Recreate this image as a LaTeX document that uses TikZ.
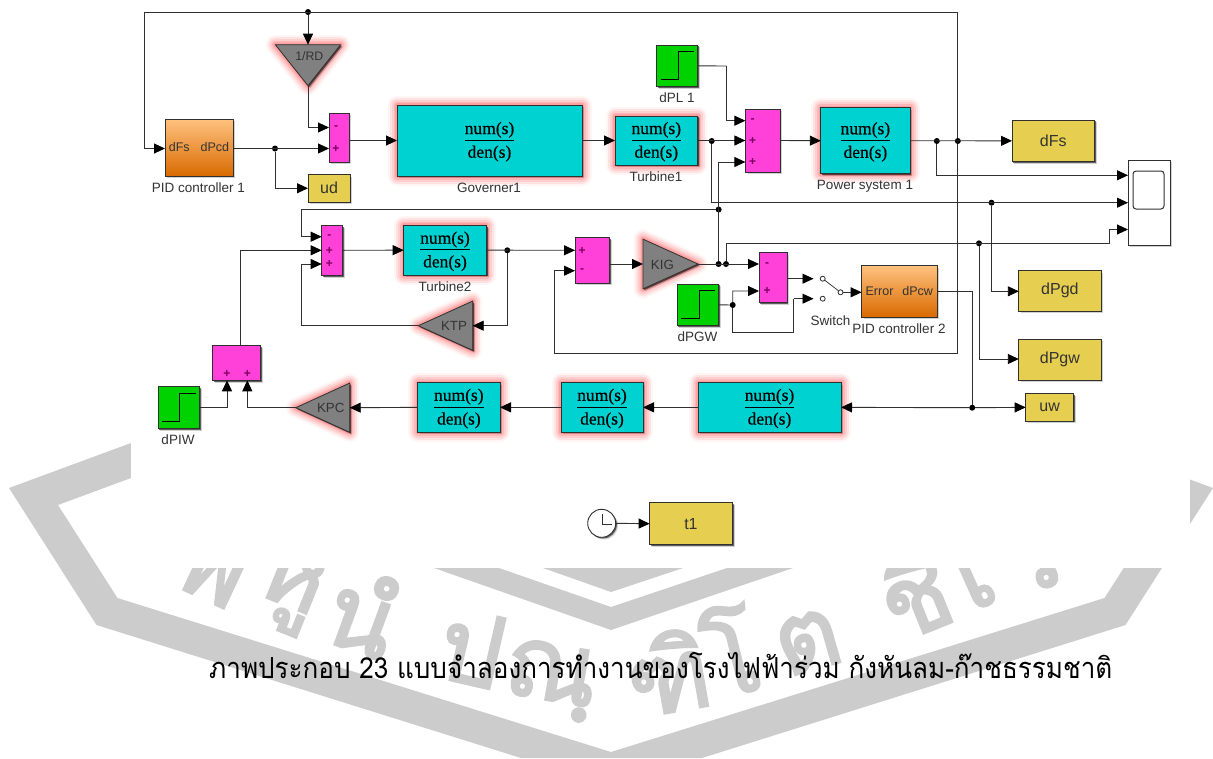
\documentclass[tikz,border=0pt]{standalone}
\usepackage{fontspec}
\usepackage{array}
\setmainfont{Liberation Sans}
\newfontfamily\thaifont[Script=Thai]{Loma}
\newfontfamily\markfont[Script=Thai,FakeBold=2.5]{Loma}
\newfontfamily\tfserif[FakeBold=0.5]{Liberation Serif}
\usetikzlibrary{arrows.meta,shapes.geometric,shadows,calc}
\definecolor{tfc}{HTML}{00D2D2}
\definecolor{sumc}{HTML}{FF40D9}
\definecolor{dispc}{HTML}{E6CF50}
\definecolor{stepc}{HTML}{00D200}
\definecolor{gainc}{HTML}{808080}
\definecolor{wirec}{HTML}{303030}
\definecolor{markc}{HTML}{CCCCCC}
\definecolor{signc}{HTML}{7A0060}
\definecolor{pidtop}{HTML}{FFC280}
\definecolor{pidbot}{HTML}{D96A00}
\definecolor{labelc}{HTML}{333333}
\newcommand\numden{\setlength{\arrayrulewidth}{0.9pt}\fontsize{17.5}{17.5}\tfserif\begin{tabular}{@{}c@{}}\rule{0pt}{16pt}num(s)\\[0.5pt]\hline\rule{0pt}{17pt}den(s)\end{tabular}}
\newcommand\blk[7]{\node[#6,minimum width={(#4-#2)*1pt},minimum height={(#5-#3)*1pt}] (#1) at ({(#2+#4)/2},{(#3+#5)/2}) {#7};}
\tikzset{
  softshadow/.style={general shadow={shadow xshift=2.2pt,shadow yshift=-2.2pt,fill=black,fill opacity=.18},
                     general shadow={shadow xshift=1.2pt,shadow yshift=-1.2pt,fill=black,fill opacity=.55}},
  redglow/.style={preaction={draw=red,line width=19pt,opacity=.04,line join=round},
                  preaction={draw=red,line width=15pt,opacity=.07,line join=round},
                  preaction={draw=red,line width=11pt,opacity=.09,line join=round},
                  preaction={draw=red,line width=7pt,opacity=.11,line join=round},
                  preaction={draw=red,line width=4pt,opacity=.12,line join=round}},
  blockbase/.style={draw=wirec,line width=0.9pt,inner sep=0pt,outer sep=0pt},
  tfblock/.style={blockbase,redglow,softshadow,fill=tfc},
  sumblock/.style={blockbase,softshadow,fill=sumc},
  dispblock/.style={blockbase,softshadow,fill=dispc,text=labelc,font=\fontsize{16}{16}\selectfont},
  pidblock/.style={blockbase,softshadow,top color=pidtop,bottom color=pidbot,text=labelc,font=\fontsize{12.5}{13}\selectfont},
  stepsrc/.style={blockbase,softshadow,fill=stepc,
    path picture={\draw[black,line width=0.8pt,shift={(path picture bounding box.center)}] (-16.5,13.5) -- (1,13.5) -- (1,-14) -- (17,-14);}},
  scopeblock/.style={blockbase,softshadow,fill=white},
  screen/.style={draw=wirec,line width=1pt,rounded corners=3pt,fill=white,inner sep=0pt},
  gainblock/.style={isosceles triangle,isosceles triangle stretches,inner sep=0pt,outer sep=0pt,draw=wirec,line width=0.8pt,fill=gainc,redglow,softshadow},
  gainlabel/.style={text=labelc,inner sep=0pt,font=\fontsize{13.3}{13}\selectfont},
  lbl/.style={text=labelc,inner sep=0pt,font=\fontsize{13.5}{14}\selectfont},
  signmark/.style={text=signc,inner sep=0pt,font=\bfseries\fontsize{12}{12}\selectfont},
  wire/.style={draw=wirec,line width=0.9pt,line join=miter},
  feed/.style={wire,-{Triangle[length=11pt,width=10pt,black]}},
  junction/.style={circle,fill=black,inner sep=0pt,minimum size=6pt,outer sep=0pt},
  swport/.style={circle,draw=wirec,fill=white,line width=0.8pt,inner sep=0pt,minimum size=5pt},
  clockface/.style={circle,draw=wirec,line width=0.9pt,fill=white,inner sep=0pt,minimum size=28pt,softshadow},
  markglyph/.style={text=markc,inner sep=0pt,font=\markfont\fontsize{100}{100}\selectfont},
  caption/.style={text=black,inner sep=0pt,anchor=base west},
}
\begin{document}
\begin{tikzpicture}[x=1pt,y=-1pt]
\useasboundingbox (0,0) rectangle (1213,758);
% --- watermark
\fill[markc] (131,443) -- (9,488) -- (96.5,625) -- (521,758) -- (702,758) -- (1125.5,625) -- (1213,488) -- (1091,443)
  -- (1091,478) -- (1164,505) -- (1104.5,598) -- (611,752) -- (117.5,598) -- (58,505) -- (131,478) -- cycle;
\fill[markc] (434,568) -- (611,630) -- (793,568) -- (727,568) -- (611,607) -- (499,568) -- cycle;
\fill[markc] (543,568) -- (611,592) -- (683,568) -- cycle;
\node[markglyph,rotate=-25] (wa) at (212,572) {พ};
\node[markglyph,rotate=-22] (wb) at (288,590) {หู};
\node[markglyph,rotate=-20] (wc) at (364,612) {นํ};
\node[markglyph,rotate=-13] (wd) at (472,648) {ป};
\node[markglyph,rotate=-10] (we) at (550,680) {ณฺ};
\node[markglyph,rotate=10] (wf) at (668,672) {ฑิ};
\node[markglyph,rotate=14] (wg) at (730,650) {โ};
\node[markglyph,rotate=16] (wh) at (808,642) {ต};
\node[markglyph,rotate=22] (wi) at (913,592) {ชี};
\node[markglyph,rotate=24] (wj) at (975,580) {เ};
\node[markglyph,rotate=25] (wk) at (1030,565) {ว};
\fill[white] (131,0) rectangle (1190,568);
% --- blocks
\blk{pidA}{165}{119}{233}{176}{pidblock}{dFs\hspace{11pt}dPcd}
\blk{sumA}{329}{113}{349}{162}{sumblock}{}
\blk{gov}{397}{105}{582}{176}{tfblock}{\numden}
\blk{turA}{615}{116}{697.6}{165}{tfblock}{\numden}
\blk{stepL}{656.6}{45}{697.6}{86.7}{stepsrc}{}
\blk{sumB}{745.4}{109}{780}{172}{sumblock}{}
\blk{pow}{820.8}{107.7}{910}{173.7}{tfblock}{\numden}
\blk{dFs}{1012}{120}{1094.5}{161.7}{dispblock}{dFs}
\blk{scope}{1128}{160}{1170}{245}{scopeblock}{}
\blk{scr}{1133}{171}{1164}{209}{screen}{}
\blk{ud}{308}{174.5}{350}{202}{dispblock}{ud}
\blk{sumC}{321.7}{225.3}{342.7}{275.3}{sumblock}{}
\blk{turB}{403.7}{225.3}{486.3}{275}{tfblock}{\numden}
\blk{sumD}{575}{237.7}{609.3}{283}{sumblock}{}
\blk{stepG}{677}{284}{718.8}{325.7}{stepsrc}{}
\blk{sumE}{759}{252.7}{787}{302.3}{sumblock}{}
\blk{pidB}{861.6}{265.3}{937}{317}{pidblock}{Error\hspace{9pt}dPcw}
\blk{dPgd}{1018.8}{270.7}{1101}{311}{dispblock}{dPgd}
\blk{dPgw}{1018.8}{339}{1101}{380}{dispblock}{dPgw}
\blk{uw}{1025.7}{393.7}{1073.5}{421}{dispblock}{uw}
\blk{tfE}{698}{382.7}{841}{432}{tfblock}{\numden}
\blk{tfD}{561}{382.7}{643}{432}{tfblock}{\numden}
\blk{tfC}{417.7}{382.7}{500}{432}{tfblock}{\numden}
\blk{sumF}{212.7}{345.7}{260.7}{380.3}{sumblock}{}
\blk{stepW}{158}{386.7}{199.7}{428.3}{stepsrc}{}
\blk{tone}{649.6}{502.7}{732.3}{544.7}{dispblock}{t1}
\node[clockface] (clock) at (601.7,523.3) {};
\draw[wirec,line width=0.8pt] ($(clock.center)+(1,-9)$) -- ($(clock.center)+(1,1)$) -- ($(clock.center)+(10,1)$);
% --- gains
\node[gainblock,shape border rotate=270,anchor=apex,minimum width=65.3pt,minimum height=41pt] (rd) at (308,85.7) {};
\node[gainblock,shape border rotate=0,anchor=apex,minimum width=49.7pt,minimum height=55pt] (kig) at (698,264) {};
\node[gainblock,shape border rotate=180,anchor=apex,minimum width=49.3pt,minimum height=54.4pt] (ktp) at (418.3,325.7) {};
\node[gainblock,shape border rotate=180,anchor=apex,minimum width=49.3pt,minimum height=54pt] (kpc) at (295.7,407.7) {};
\node[gainlabel,font=\fontsize{12.3}{13}\selectfont] (rdT) at (309.3,55.7) {1/RD};
\node[gainlabel] (kigT) at (662.4,265) {KIG};
\node[gainlabel] (ktpT) at (454,325.7) {KTP};
\node[gainlabel] (kpcT) at (330.7,408) {KPC};
% --- labels
\node[lbl] (lbPidA) at (198.5,188) {PID controller 1};
\node[lbl] (lbGov) at (489,188) {Governer1};
\node[lbl] (lbTurA) at (656,177) {Turbine1};
\node[lbl] (lbL) at (677,98) {dPL 1};
\node[lbl] (lbPow) at (865,186) {Power system 1};
\node[lbl] (lbTurB) at (445,286.7) {Turbine2};
\node[lbl] (lbG) at (697.5,337) {dPGW};
\node[lbl] (lbSw) at (830.6,320.7) {Switch};
\node[lbl] (lbPidB) at (899,329) {PID controller 2};
\node[lbl] (lbW) at (178,440) {dPIW};
% --- signs
\foreach \n/\x/\y/\s in {a/336/127.5/-,b/336/148.5/+,
  c/752.7/121/-,d/752.7/141/+,e/752.7/162/+,
  f/329.3/237/-,g/329.3/251/+,h/329.3/264/+,
  i/582/251/+,j/582/271/-,
  k/767/264.5/-,l/767/291/+,
  m/227/373.7/+,n/247.3/373.7/+}
  \node[signmark] (sg\n) at (\x,\y) {\s};
% --- ports and bends
\coordinate (inA1) at (329,127.5);
\coordinate (inA2) at (329,148.5);
\coordinate (inB1) at (745.4,120.7);
\coordinate (inB3) at (745.4,162);
\coordinate (inC1) at (321.7,236.7);
\coordinate (inC3) at (321.7,264);
\coordinate (inD1) at (575,250.3);
\coordinate (inD2) at (575,270.7);
\coordinate (inE2) at (759,291);
\coordinate (inF1) at (227,380.3);
\coordinate (inF2) at (247.3,380.3);
\coordinate (pidAin) at (165,148.5);
\coordinate (pidAout) at (233,148.5);
\coordinate (scA) at (1128,175.3);
\coordinate (scB) at (1128,202.7);
\coordinate (scC) at (1128,229.5);
\coordinate (cornerTR) at (957.8,12);
\coordinate (cornerTL) at (144,12);
\coordinate (cornerLD) at (144,148.5);
\coordinate (retA) at (957.8,353);
\coordinate (retB) at (554.3,353);
\coordinate (upA) at (301.7,209.5);
\coordinate (upB) at (301.7,236.7);
\coordinate (scC1) at (1109,243.3);
\coordinate (scC2) at (1109,229.5);
\coordinate (midC) at (726,243.3);
\coordinate (stepLc) at (726.3,66);
\coordinate (fbK) at (301.7,325.7);
\coordinate (fbK2) at (301.7,264);
\coordinate (swBa) at (732.7,332.3);
\coordinate (swBb) at (793.9,332.3);
\coordinate (swBc) at (793.9,298.7);
\coordinate (swA) at (813.5,278.7);
\coordinate (swB) at (813.5,298.7);
\coordinate (pidBin) at (861.6,292.3);
\coordinate (pidBout) at (937,291);
\coordinate (pidBc) at (972.2,291);
\coordinate (topF) at (240.3,345.7);
\coordinate (scG) at (1018.8,291.3);
\coordinate (scW) at (1018.8,359);
% --- junctions
\node[junction] (jTop) at (308,12) {};
\node[junction] (jPidA) at (275,148.5) {};
\node[junction] (jTur) at (711.7,141) {};
\node[junction] (jPowA) at (936.8,141) {};
\node[junction] (jPowB) at (957.8,141) {};
\node[junction] (jUp) at (718.6,209.5) {};
\node[junction] (jGd) at (991.5,202.7) {};
\node[junction] (jGw) at (979,243.3) {};
\node[junction] (jKigA) at (718.6,264) {};
\node[junction] (jKigB) at (726,264) {};
\node[junction] (jTurB) at (507.3,250.3) {};
\node[junction] (jStep) at (732.7,305) {};
\node[junction] (jUw) at (972.2,407.7) {};
% --- switch
\node[swport] (swIa) at (822.7,278.7) {};
\node[swport] (swIb) at (822.7,298.7) {};
\node[swport] (swO) at (840.5,292.3) {};
% --- connectors
\draw[feed] (jPowB) -- (cornerTR) -- (cornerTL) -- (cornerLD) -- (pidAin);
\draw[feed] (jTop) -- (rd.lower side);
\draw[feed] (rd.apex) |- (inA1);
\draw[feed] (pidAout) -- (inA2);
\draw[feed] (jPidA) |- (ud.west);
\draw[feed] (gov.west -| sumA.east) -- (gov.west);
\draw[feed] (gov.east) -- (turA.west);
\draw[feed] (turA.east) -- (sumB.west);
\draw[wire] (stepL.east) -- (stepLc);
\draw[feed] (stepLc) |- (inB1);
\draw[feed] (sumB.east) -- (pow.west);
\draw[feed] (pow.east) -- (dFs.west);
\draw[feed] (jPowA) |- (scA);
\draw[feed] (jTur) |- (scB);
\draw[feed] (jGd) |- (scG);
\draw[feed] (jKigA) |- (inB3);
\draw[wire] (jUp) -- (upA) -- (upB);
\draw[feed] (upB) -- (inC1);
\draw[feed] (jGw) |- (scW);
\draw[feed] (jKigB) -- (midC) -- (scC1) -- (scC2) -- (scC);
\draw[feed] (jPowB) -- (retA) -- (retB) |- (inD2);
\draw[feed] (sumC.east) -- (turB.west);
\draw[feed] (turB.east) -- (inD1);
\draw[feed] (jTurB) |- (ktp.lower side);
\draw[wire] (ktp.apex) -- (fbK) -- (fbK2);
\draw[feed] (fbK2) -- (inC3);
\draw[feed] (kig.lower side -| sumD.east) -- (kig.lower side);
\draw[feed] (kig.apex) -- (sumE.west |- kig.apex);
\draw[feed] (stepG.east) -- (jStep) |- (inE2);
\draw[wire] (jStep) -- (swBa) -- (swBb) -- (swBc);
\draw[feed] (swBc) -- (swB);
\draw[feed] (sumE.east |- swA) -- (swA);
\draw[wire,line width=0.7pt] (swIa) -- (swO);
\draw[feed] (swO) -- (pidBin);
\draw[wire] (pidBout) -- (pidBc);
\draw[wire] (pidBc) -- (jUw);
\draw[feed] (jUw) -- (uw.west);
\draw[feed] (jUw) -- (tfE.east);
\draw[feed] (tfE.west) -- (tfD.east);
\draw[feed] (tfD.west) -- (tfC.east);
\draw[feed] (tfC.west) -- (kpc.lower side);
\draw[feed] (stepW.east) -| (inF1);
\draw[feed] (kpc.apex) -| (inF2);
\draw[feed] (topF) |- (sumC.west);
\draw[feed] (clock.east) -- (tone.west);
% --- caption
\node[caption] (cap) at (209,678) {\resizebox{903pt}{\height}{\thaifont\fontsize{29}{30}\selectfont ภาพประกอบ 23 แบบจำลองการทำงานของโรงไฟฟ้าร่วม กังหันลม-ก๊าชธรรมชาติ}};
\end{tikzpicture}
\end{document}
